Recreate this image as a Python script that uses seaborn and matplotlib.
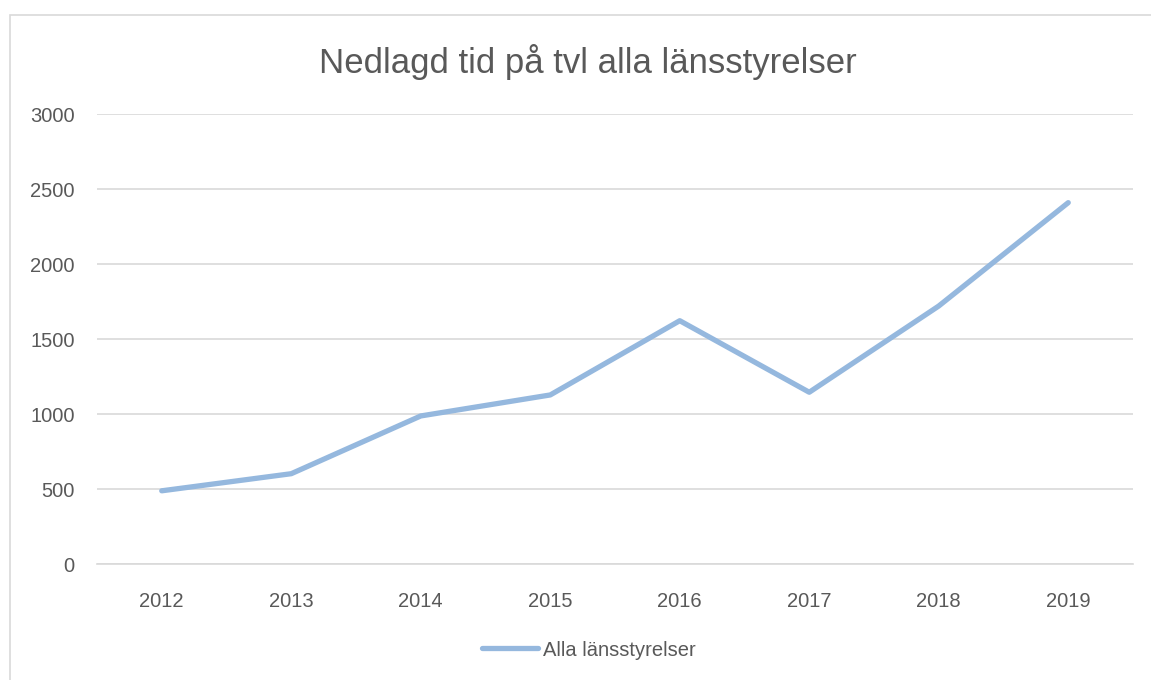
import matplotlib
matplotlib.use("Agg")
import matplotlib.pyplot as plt
import seaborn as sns
import pandas as pd
from matplotlib.patches import Rectangle
from matplotlib.lines import Line2D

years = ["2012", "2013", "2014", "2015", "2016", "2017", "2018", "2019"]
values = [490, 604, 989, 1129, 1624, 1147, 1722, 2411]
series_name = "Alla länsstyrelser"
title = "Nedlagd tid på tvl alla länsstyrelser"
yticks = [0, 500, 1000, 1500, 2000, 2500, 3000]

sns.set_theme(style="white")
plt.rcParams["font.family"] = ["Liberation Sans", "DejaVu Sans"]

df = pd.DataFrame({"year": years, "value": values, "series": series_name})

fig = plt.figure(figsize=(11.51, 6.8), dpi=100)
ax = fig.add_axes([97/1151, 1-564.3/680, (1133-97)/1151, (564.3-114.3)/680])

sns.lineplot(data=df, x="year", y="value", hue="series", palette=["#95B8DE"],
             linewidth=3.8, ax=ax, sort=False, legend=False)
ax.lines[0].set_solid_capstyle("round")

ax.set_xlim(-0.5, len(years) - 0.5)
ax.set_ylim(0, 3000)
ax.set_yticks(yticks)
ax.set_yticklabels([str(v) for v in yticks])
ax.yaxis.grid(True, color="#D9D9D9", linewidth=1.2)
ax.set_axisbelow(True)
for s in ["top", "right", "left"]:
    ax.spines[s].set_visible(False)
ax.spines["bottom"].set_color("#D9D9D9")
ax.spines["bottom"].set_linewidth(1.2)
ax.tick_params(axis="both", length=0, labelsize=14.5, colors="#595959")
ax.tick_params(axis="y", pad=16)
ax.tick_params(axis="x", pad=20)
ax.set_xlabel("")
ax.set_ylabel("")

fig.text(588/1151, 1 - 62/680, title, ha="center", va="center",
         fontsize=25, color="#595959")

h = Line2D([], [], color="#95B8DE", linewidth=3.8, solid_capstyle="round")
fig.legend([h], [series_name], loc="center", bbox_to_anchor=(589/1151, 1 - 650/680),
           frameon=False, fontsize=14.5, labelcolor="#595959", handlelength=2.8,
           handletextpad=0.25)

fig.patches.append(Rectangle((10/1151, -0.1), 1.2, 1 - 15/680 + 0.1, transform=fig.transFigure,
                             fill=False, edgecolor="#D9D9D9", linewidth=1.2))

fig.savefig("out.png", dpi=100, facecolor="white")
